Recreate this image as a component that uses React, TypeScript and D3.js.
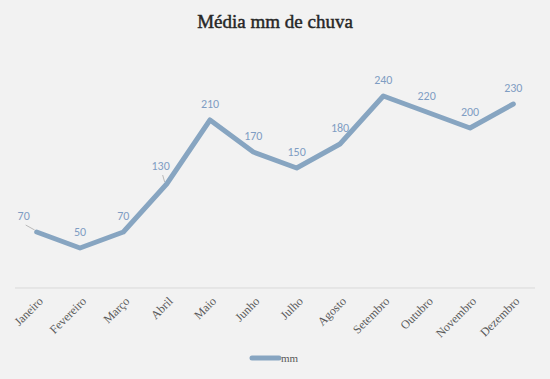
import React, { useEffect, useRef } from "react";
import * as d3 from "d3";

const months = ["Janeiro","Fevereiro","Março","Abril","Maio","Junho","Julho","Agosto","Setembro","Outubro","Novembro","Dezembro"];
const rainfall = [70, 50, 70, 130, 210, 170, 150, 180, 240, 220, 200, 230];
const title = "Média mm de chuva";
const seriesName = "mm";

const W = 550, H = 379;
const LINE = "#87a5c1";
const LABEL = "#7f9dc3";

export default function App() {
  const ref = useRef<SVGSVGElement>(null);
  useEffect(() => {
    const svg = d3.select(ref.current);
    svg.selectAll("*").remove();
    svg.append("rect").attr("width", W).attr("height", H).attr("fill", "#f2f2f2");

    const x = d3.scaleBand<string>().domain(months).range([15, 535]);
    const y = d3.scaleLinear().domain([0, 300]).range([288, 48]);
    const cx = (m: string) => (x(m) as number) + x.bandwidth() / 2;

    svg.append("text").attr("x", 275).attr("y", 28).attr("text-anchor", "middle")
      .attr("font-family", "Liberation Serif, serif").attr("font-size", 19).attr("font-weight", 400)
      .attr("stroke", "#262626").attr("stroke-width", 0.45)
      .attr("fill", "#262626").text(title);

    svg.append("line").attr("x1", 15).attr("x2", 535).attr("y1", y(0)).attr("y2", y(0))
      .attr("stroke", "#d9d9d9").attr("stroke-width", 1);

    const line = d3.line<number>().x((_, i) => cx(months[i])).y(d => y(d));
    svg.append("path").datum(rainfall).attr("d", line).attr("fill", "none")
      .attr("stroke", LINE).attr("stroke-width", 5).attr("stroke-linejoin", "round").attr("stroke-linecap", "round");

    // data labels
    const offsets: Record<number, [number, number]> = { 0: [-13, -12], 3: [-6, -14] };
    rainfall.forEach((v, i) => {
      const px = cx(months[i]), py = y(v);
      const [dx, dy] = offsets[i] || [0, -12];
      if (offsets[i]) {
        svg.append("line").attr("x1", px + dx + 2).attr("y1", py + dy + 5).attr("x2", px - 2).attr("y2", py - 2)
          .attr("stroke", "#a6a6a6").attr("stroke-width", 0.75);
      }
      svg.append("text").attr("x", px + dx).attr("y", py + dy).attr("text-anchor", "middle")
        .attr("font-family", "Carlito, Liberation Sans, sans-serif").attr("font-size", 12)
        .attr("fill", LABEL).text(v);
    });

    // x labels
    months.forEach(m => {
      svg.append("text").attr("transform", `translate(${cx(m) + 4},${y(0) + 11}) rotate(-45)`)
        .attr("text-anchor", "end").attr("dy", "0.35em")
        .attr("font-family", "Liberation Serif, serif").attr("font-size", 12)
        .attr("fill", "#595959").text(m);
    });

    // legend
    svg.append("line").attr("x1", 252).attr("x2", 279).attr("y1", 358).attr("y2", 358)
      .attr("stroke", LINE).attr("stroke-width", 5).attr("stroke-linecap", "round");
    svg.append("text").attr("x", 281).attr("y", 362).attr("font-family", "Liberation Serif, serif")
      .attr("font-size", 11).attr("fill", "#595959").text(seriesName);
  }, []);
  return <svg ref={ref} width={W} height={H} style={{ display: "block", position: "absolute", left: 0, top: 0 }} />;
}
